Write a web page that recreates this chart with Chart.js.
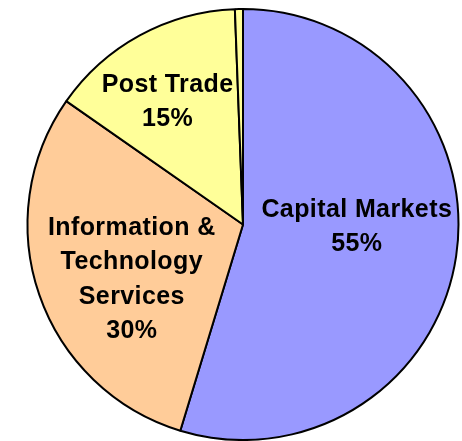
<!DOCTYPE html>
<html>
<head>
<meta charset="utf-8">
<script src="https://cdn.jsdelivr.net/npm/chart.js@4/dist/chart.umd.min.js"></script>
<style>
  html, body { margin: 0; padding: 0; background: #fff; }
  #wrap { width: 462px; height: 441px; }
</style>
</head>
<body>
<div id="wrap"><canvas id="myChart"></canvas></div>
<script>
const segmentos = ['Capital Markets', 'Information & Technology Services', 'Post Trade', 'Other']
const valores = [54.7, 30.0, 14.7, 0.6]
const etiquetas = [
  ['Capital Markets', '55%'],
  ['Information &', 'Technology', 'Services', '30%'],
  ['Post Trade', '15%'],
  []
]
const colores = ['#9999FF', '#FFCC99', '#FFFF99', '#FFFF99']

// where each label block sits, as a fraction of the radius from the centre
const posEtiquetas = [[0.528, 0.012], [-0.516, 0.255], [-0.35, -0.568], [0, 0]]

const textoPlugin = {
  id: 'textoPlugin',
  afterDatasetsDraw(chart) {
    const ctx = chart.ctx
    const arcs = chart.getDatasetMeta(0).data
    ctx.save()
    ctx.font = 'bold 25px "Liberation Sans", Arial, sans-serif'
    ctx.letterSpacing = '0.4px'
    ctx.fillStyle = '#000'
    ctx.textAlign = 'center'
    ctx.textBaseline = 'middle'
    const lineH = 34.5
    arcs.forEach((arc, i) => {
      const lines = etiquetas[i]
      if (!lines.length) return
      const r = arc.outerRadius
      const cx = arc.x + posEtiquetas[i][0] * r
      const cy = arc.y + posEtiquetas[i][1] * r
      const top = cy - (lines.length - 1) * lineH / 2
      lines.forEach((t, j) => ctx.fillText(t, cx, top + j * lineH))
    })
    ctx.restore()
  }
}

const ctx = document.getElementById('myChart')
new Chart(ctx, {
  type: 'pie',
  data: {
    labels: segmentos,
    datasets: [{
      data: valores,
      backgroundColor: colores,
      borderColor: '#000',
      borderWidth: 2
    }]
  },
  options: {
    responsive: true,
    maintainAspectRatio: false,
    animation: false,
    layout: { padding: { left: 24, right: 0, top: 8, bottom: 0 } },
    plugins: {
      legend: { display: false },
      tooltip: { enabled: false }
    }
  },
  plugins: [textoPlugin]
})
</script>
</body>
</html>
